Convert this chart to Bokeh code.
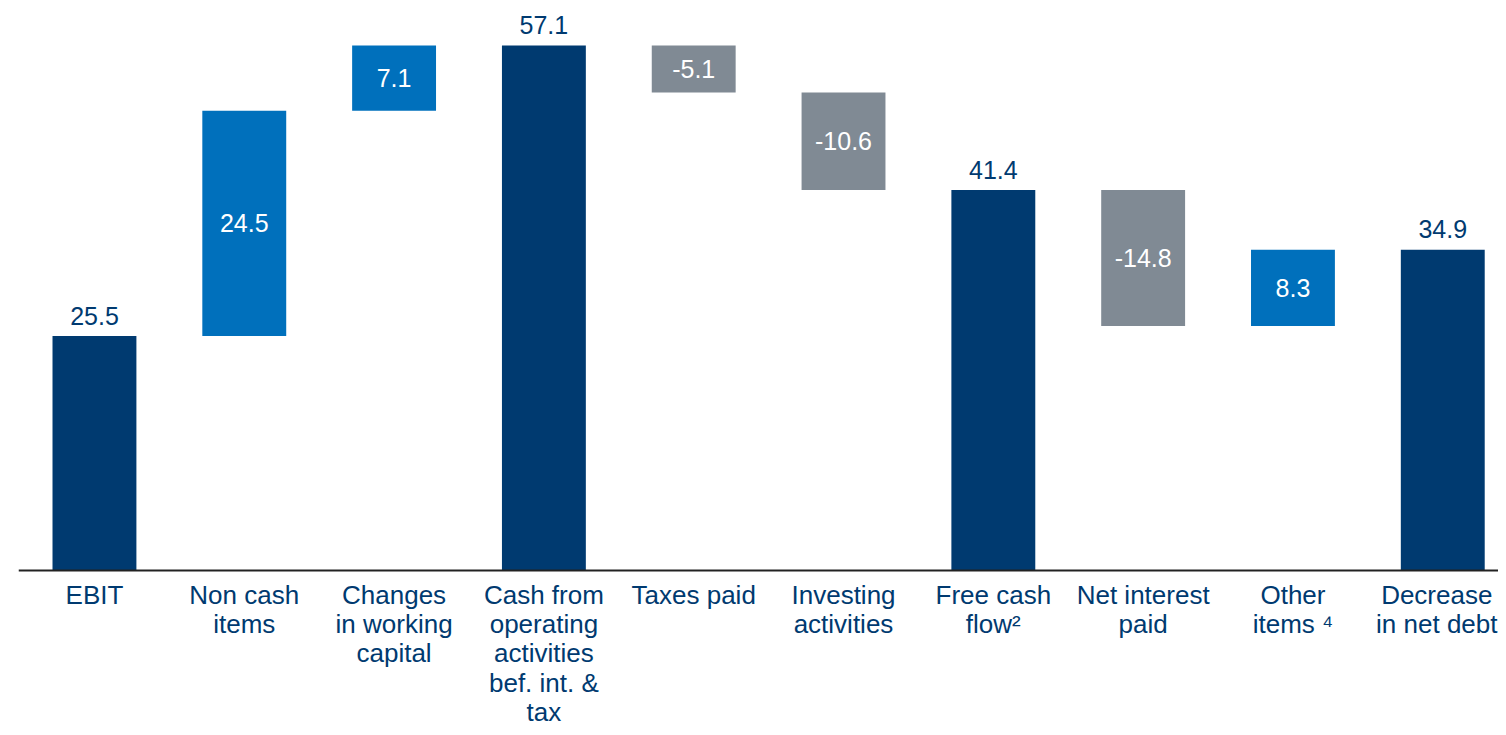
from bokeh.plotting import figure
from bokeh.models import ColumnDataSource, Range1d, Span
from bokeh.core.properties import value
from bokeh.embed import file_html
from bokeh.resources import INLINE

categories = [
    "EBIT",
    "Non cash\nitems",
    "Changes\nin working\ncapital",
    "Cash from\noperating\nactivities\nbef. int. &\ntax",
    "Taxes paid",
    "Investing\nactivities",
    "Free cash\nflow\u00b2",
    "Net interest\npaid",
    "Other\nitems \u2074",
    "Decrease\nin net debt",
]
values = [25.5, 24.5, 7.1, 57.1, -5.1, -10.6, 41.4, -14.8, 8.3, 34.9]
kinds = ["total", "up", "up", "total", "down", "down", "total", "down", "up", "total"]

NAVY = "#003a70"
BLUE = "#0070bc"
GRAY = "#808a94"
FONT = "Liberation Sans"

xs, bottoms, tops, colors = [], [], [], []
run = 0.0
for i, (v, k) in enumerate(zip(values, kinds)):
    xs.append(i)
    if k == "total":
        b, t = 0.0, v
        run = v
        colors.append(NAVY)
    else:
        b, t = min(run, run + v), max(run, run + v)
        run = run + v
        colors.append(BLUE if k == "up" else GRAY)
    bottoms.append(b)
    tops.append(t)

src = ColumnDataSource(dict(x=xs, bottom=bottoms, top=tops, color=colors))

p = figure(width=1498, height=727, output_backend="svg", toolbar_location=None,
           x_range=Range1d(-0.507, 9.372), y_range=Range1d(-17.08, 62.0),
           min_border_left=18, min_border_right=0, min_border_top=0, min_border_bottom=0)
p.axis.visible = False
p.grid.visible = False
p.outline_line_color = None
p.background_fill_color = "white"

p.vbar(x="x", bottom="bottom", top="top", width=0.56, color="color", source=src, line_color=None)

p.add_layout(Span(location=0, dimension="width", line_color="#222222", line_width=2))

# value labels
tot_x = [x for x, k in zip(xs, kinds) if k == "total"]
tot_y = [t for t, k in zip(tops, kinds) if k == "total"]
tot_t = [f"{v:.1f}" for v, k in zip(values, kinds) if k == "total"]
p.text(x=tot_x, y=[y + 2.2 for y in tot_y], text=tot_t, text_align="center",
       text_baseline="middle", text_font=value(FONT), text_font_size="25px", text_color=NAVY)

d_x = [x for x, k in zip(xs, kinds) if k != "total"]
d_y = [(b + t) / 2 for b, t, k in zip(bottoms, tops, kinds) if k != "total"]
d_t = [f"{v:.1f}" for v, k in zip(values, kinds) if k != "total"]
p.text(x=d_x, y=d_y, text=d_t, text_align="center", text_baseline="middle",
       text_font=value(FONT), text_font_size="25px", text_color="white")

# category labels
label_shift = [0, 0, 0, 0, 0, 0, 0, 0, 0, -6]
p.text(x=xs, y=[-1.0] * len(xs), text=categories, x_offset=label_shift,
       text_align="center", text_baseline="top",
       text_font=value(FONT), text_font_size="26px", text_color=NAVY, text_line_height=0.98)

open("out.html", "w").write(file_html(p, INLINE))
